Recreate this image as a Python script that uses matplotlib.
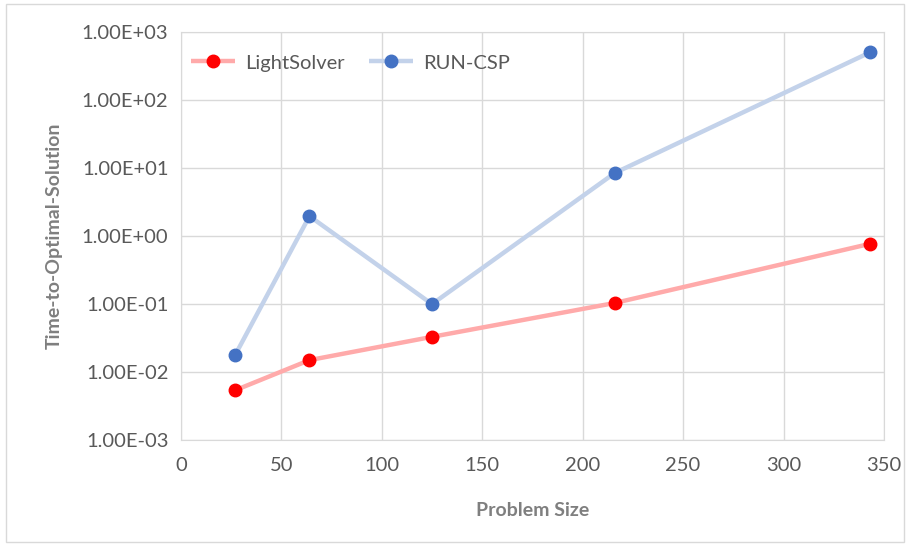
import numpy as np
import matplotlib.pyplot as plt
from matplotlib.ticker import FuncFormatter, FixedLocator, NullLocator
from matplotlib.patches import Rectangle

plt.rcParams['font.family'] = ['Lato', 'DejaVu Sans']

# Data
problemSize = [27, 64, 125, 216, 343]
lightSolver = [0.0054, 0.015, 0.033, 0.104, 0.77]
runCsp = [0.0178, 1.97, 0.1, 8.5, 505]

xTicks = [0, 50, 100, 150, 200, 250, 300, 350]
yTicks = [1e-3, 1e-2, 1e-1, 1e0, 1e1, 1e2, 1e3]


def sciLabel(v, pos):
    exp = int(np.round(np.log10(v)))
    sign = '+' if exp >= 0 else '-'
    return '1.00E%s%02d' % (sign, abs(exp))


fig = plt.figure(figsize=(9.09, 5.46), dpi=100)
fig.patch.set_facecolor('white')
fig.patches.append(Rectangle((0.007, 0.008), 0.988, 0.984, transform=fig.transFigure,
                             fill=False, edgecolor='#d9d9d9', linewidth=1))

ax = fig.add_axes([0.199, 0.194, 0.7735, 0.747])
ax.plot(problemSize, lightSolver, color='#ffaaaa', linewidth=3.2, marker='o',
        markersize=9, markerfacecolor='#ff0000', markeredgecolor='#ff0000',
        label='LightSolver', solid_capstyle='butt')
ax.plot(problemSize, runCsp, color='#c3d2ea', linewidth=3.2, marker='o',
        markersize=9, markerfacecolor='#4472c4', markeredgecolor='#4472c4',
        label='RUN-CSP', solid_capstyle='butt')

ax.set_yscale('log')
ax.set_xlim(0, 350)
ax.set_ylim(1e-3, 1e3)
ax.xaxis.set_major_locator(FixedLocator(xTicks))
ax.yaxis.set_major_locator(FixedLocator(yTicks))
ax.yaxis.set_minor_locator(NullLocator())
ax.yaxis.set_major_formatter(FuncFormatter(sciLabel))

ax.grid(True, color='#d9d9d9', linewidth=1)
ax.set_axisbelow(True)
for side in ['top', 'right', 'left', 'bottom']:
    ax.spines[side].set_color('#d9d9d9')
ax.tick_params(axis='both', length=0, labelsize=14.5, colors='#595959')
ax.tick_params(axis='x', pad=12)
ax.tick_params(axis='y', pad=9)

ax.set_xlabel('Problem Size', fontsize=14, fontweight='bold', color='#7f7f7f', labelpad=20)
ax.set_ylabel('Time-to-Optimal-Solution', fontsize=14, fontweight='bold', color='#7f7f7f', labelpad=14)

leg = ax.legend(loc='upper left', ncol=2, frameon=False, fontsize=14.5,
                bbox_to_anchor=(-0.012, 0.99), handlelength=2.2, columnspacing=1.2,
                handletextpad=0.5)
for t in leg.get_texts():
    t.set_color('#595959')

fig.savefig('out.png', dpi=100)
